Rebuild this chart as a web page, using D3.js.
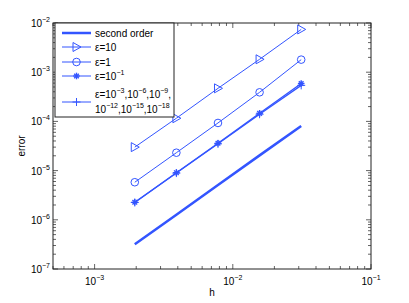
<!DOCTYPE html>
<html>
<head>
<meta charset="utf-8">
<script src="https://cdn.jsdelivr.net/npm/d3@7"></script>
<style>
  body { margin: 0; background: #fff; }
  svg text { font-family: "Liberation Sans", Arial, sans-serif; }
</style>
</head>
<body>
<div id="chart"></div>
<script>
// Data
const hValues = [1/512, 1/256, 1/128, 1/64, 1/32];
const secondOrder = [3.18e-7, 1.27e-6, 5.09e-6, 2.04e-5, 8.1e-5];
const eps10 = [3.0e-5, 1.16e-4, 4.7e-4, 1.83e-3, 7.4e-3];
const eps1 = [5.8e-6, 2.31e-5, 9.3e-5, 3.9e-4, 1.8e-3];
const eps01 = [2.27e-6, 9.06e-6, 3.6e-5, 1.46e-4, 5.9e-4];
const epsSmall = [2.25e-6, 8.9e-6, 3.5e-5, 1.4e-4, 5.4e-4];
const xTickExps = [-3, -2, -1];
const yTickExps = [-7, -6, -5, -4, -3, -2];

// Set up size
var width = 409, height = 303;
var margin = {left: 53, right: 38, top: 23, bottom: 34};
var innerW = width - margin.left - margin.right;
var innerH = height - margin.top - margin.bottom;
var blue = '#3355ff';
var axisColor = '#222';

var x = d3.scaleLog().domain([5e-4, 1e-1]).range([0, innerW]);
var y = d3.scaleLog().domain([1e-7, 1e-2]).range([innerH, 0]);

var svg = d3.select('#chart').append('svg')
  .attr('width', width)
  .attr('height', height);

var g = svg.append('g')
  .attr('transform', 'translate(' + margin.left + ',' + margin.top + ')');

// write text made of [normal, superscript] pairs
function supLabel(sel, parts) {
  var shift = 0;
  parts.forEach(function(p) {
    sel.append('tspan').attr('dy', -shift).text(p[0]);
    shift = 0;
    if (p[1]) {
      sel.append('tspan').attr('dy', -5).attr('font-size', 7).text(p[1]);
      shift = -5;
    }
  });
}

// ********** AXES / TICKS **********

function logTicks(lo, hi) {
  var out = [];
  for (var e = Math.floor(Math.log10(lo)); e <= Math.ceil(Math.log10(hi)); e++) {
    for (var k = 1; k <= 9; k++) {
      var v = k * Math.pow(10, e);
      if (v >= lo * 0.999 && v <= hi * 1.001) out.push({v: v, major: k === 1});
    }
  }
  return out;
}

logTicks(5e-4, 1e-1).forEach(function(t) {
  var len = t.major ? 5 : 3;
  var px = x(t.v);
  g.append('line').attr('x1', px).attr('x2', px).attr('y1', innerH).attr('y2', innerH - len)
    .attr('stroke', axisColor).attr('stroke-width', 0.7);
  g.append('line').attr('x1', px).attr('x2', px).attr('y1', 0).attr('y2', len)
    .attr('stroke', axisColor).attr('stroke-width', 0.7);
});
logTicks(1e-7, 1e-2).forEach(function(t) {
  var len = t.major ? 5 : 3;
  var py = y(t.v);
  g.append('line').attr('x1', 0).attr('x2', len).attr('y1', py).attr('y2', py)
    .attr('stroke', axisColor).attr('stroke-width', 0.7);
  g.append('line').attr('x1', innerW).attr('x2', innerW - len).attr('y1', py).attr('y2', py)
    .attr('stroke', axisColor).attr('stroke-width', 0.7);
});

// box
g.append('rect')
  .attr('width', innerW).attr('height', innerH)
  .attr('fill', 'none').attr('stroke', axisColor).attr('stroke-width', 1);

// tick labels
xTickExps.forEach(function(e) {
  var t = g.append('text')
    .attr('x', x(Math.pow(10, e)))
    .attr('y', innerH + 16)
    .attr('text-anchor', 'middle')
    .attr('font-size', 10);
  supLabel(t, [['10', '\u2212' + (-e)]]);
});
yTickExps.forEach(function(e) {
  var t = g.append('text')
    .attr('x', -3)
    .attr('y', y(Math.pow(10, e)) + 4)
    .attr('text-anchor', 'end')
    .attr('font-size', 10);
  supLabel(t, [['10', '\u2212' + (-e)]]);
});

// axis labels
svg.append('text')
  .attr('x', margin.left + x(Math.pow(10, -2.15)))
  .attr('y', 296)
  .attr('text-anchor', 'middle')
  .attr('font-size', 10)
  .text('h');
svg.append('text')
  .attr('transform', 'translate(25,' + (margin.top + innerH / 2) + ') rotate(-90)')
  .attr('text-anchor', 'middle')
  .attr('font-size', 10)
  .text('error');

// ********** SERIES **********

var line = d3.line()
  .x(function(d) { return x(d[0]); })
  .y(function(d) { return y(d[1]); });

function pts(vals) { return hValues.map(function(h, i) { return [h, vals[i]]; }); }

function drawMarker(sel, type, cx, cy) {
  if (type === 'tri') {
    sel.append('path')
      .attr('d', 'M' + (cx - 3.5) + ',' + (cy - 4.5) + 'L' + (cx + 4.5) + ',' + cy + 'L' + (cx - 3.5) + ',' + (cy + 4.5) + 'Z')
      .attr('fill', 'none').attr('stroke', blue).attr('stroke-width', 1);
  } else if (type === 'circle') {
    sel.append('circle').attr('cx', cx).attr('cy', cy).attr('r', 3.8)
      .attr('fill', 'none').attr('stroke', blue).attr('stroke-width', 1);
  } else if (type === 'star') {
    var r = 3.3;
    [0, 45, 90, 135].forEach(function(a) {
      var rad = a * Math.PI / 180;
      sel.append('line')
        .attr('x1', cx - r * Math.cos(rad)).attr('y1', cy - r * Math.sin(rad))
        .attr('x2', cx + r * Math.cos(rad)).attr('y2', cy + r * Math.sin(rad))
        .attr('stroke', blue).attr('stroke-width', 1.4);
    });
  } else if (type === 'plus') {
    var p = 4;
    sel.append('line').attr('x1', cx - p).attr('x2', cx + p).attr('y1', cy).attr('y2', cy)
      .attr('stroke', blue).attr('stroke-width', 1);
    sel.append('line').attr('x1', cx).attr('x2', cx).attr('y1', cy - p).attr('y2', cy + p)
      .attr('stroke', blue).attr('stroke-width', 1);
  }
}

var series = [
  {vals: secondOrder, width: 2.5, marker: null},
  {vals: eps10, width: 1, marker: 'tri'},
  {vals: eps1, width: 1, marker: 'circle'},
  {vals: eps01, width: 1.3, marker: 'star'},
  {vals: epsSmall, width: 1.3, marker: 'plus'}
];

var plot = g.append('g');
series.forEach(function(s) {
  var data = pts(s.vals);
  plot.append('path')
    .datum(data)
    .attr('d', line)
    .attr('fill', 'none')
    .attr('stroke', blue)
    .attr('stroke-width', s.width);
  if (s.marker) {
    data.forEach(function(d) { drawMarker(plot, s.marker, x(d[0]), y(d[1])); });
  }
});

// ********** LEGEND **********

var leg = g.append('g').attr('transform', 'translate(2,0)');
leg.append('rect')
  .attr('width', 119).attr('height', 94)
  .attr('fill', '#fff').attr('stroke', axisColor).attr('stroke-width', 1);

var legendRows = [
  {lines: [[['second order']]], y: 10, width: 2.5, marker: null},
  {lines: [[['\u03b5=10']]], y: 24, width: 1, marker: 'tri'},
  {lines: [[['\u03b5=1']]], y: 39, width: 1, marker: 'circle'},
  {lines: [[['\u03b5=10', '\u22121']]], y: 53, width: 1, marker: 'star'},
  {lines: [
    [['\u03b5=10', '\u22123'], [',10', '\u22126'], [',10', '\u22129'], [',']],
    [['10', '\u221212'], [',10', '\u221215'], [',10', '\u221218']]
  ], y: 79, width: 1, marker: 'plus'}
];

legendRows.forEach(function(r) {
  leg.append('line').attr('x1', 7).attr('x2', 36).attr('y1', r.y).attr('y2', r.y)
    .attr('stroke', blue).attr('stroke-width', r.width);
  if (r.marker) drawMarker(leg, r.marker, 21.5, r.y);
  var n = r.lines.length;
  r.lines.forEach(function(parts, i) {
    var base = r.y + 3.5 + (i - (n - 1) / 2) * 15;
    var t = leg.append('text').attr('x', 40).attr('y', base).attr('font-size', 10);
    supLabel(t, parts);
  });
});
</script>
</body>
</html>
